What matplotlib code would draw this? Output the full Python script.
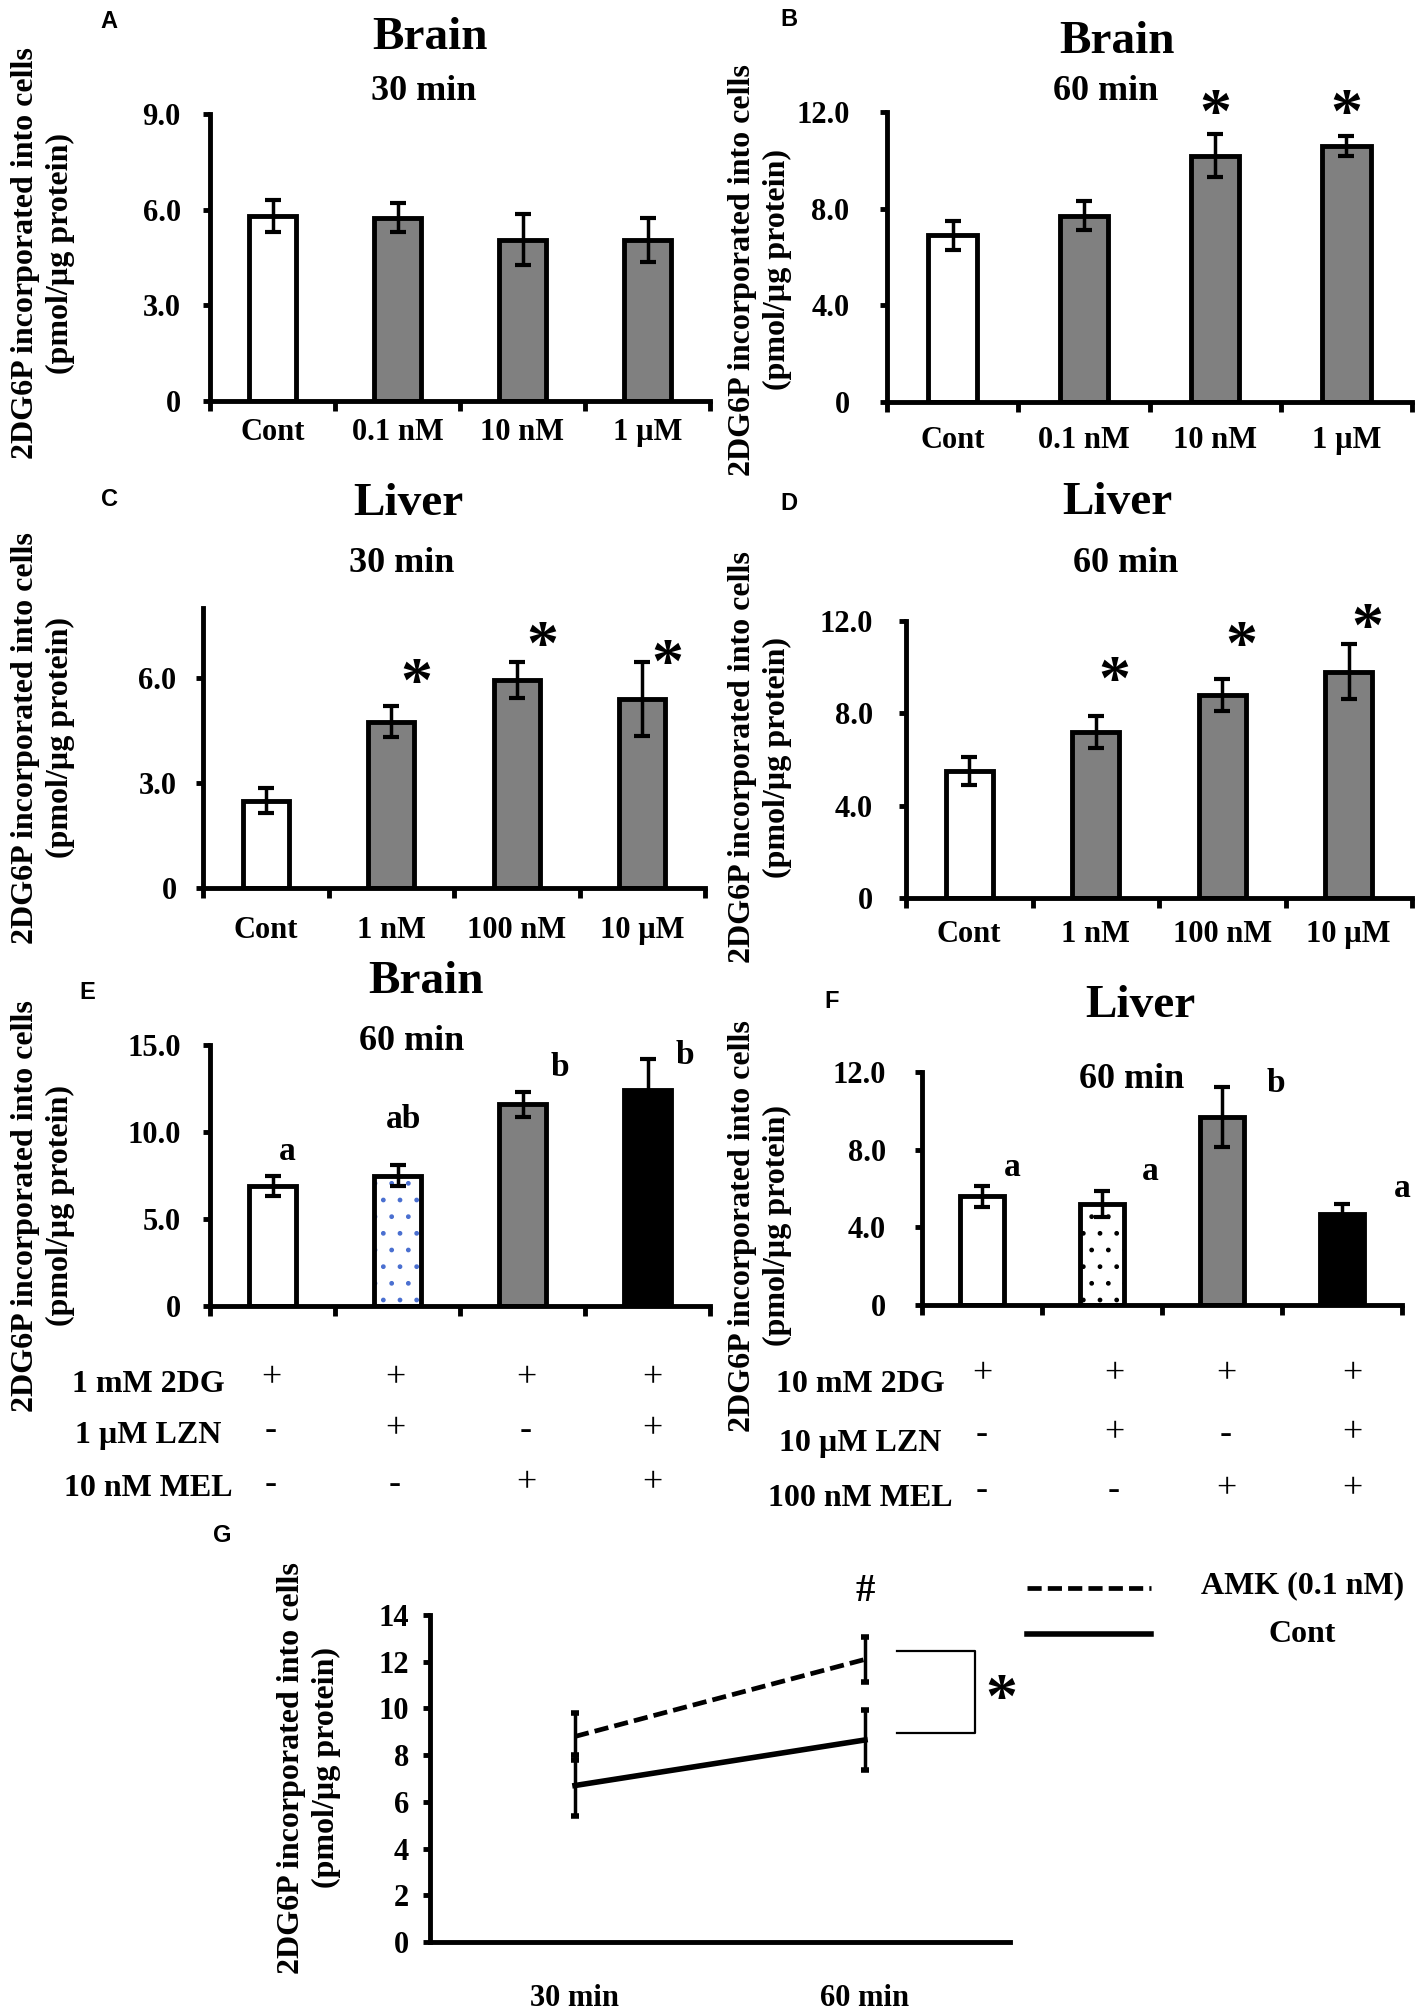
import numpy as np
import matplotlib
matplotlib.use("Agg")
import matplotlib.pyplot as plt

W, H = 1417, 2012
SERIF = "Liberation Serif"
SANS = "Liberation Sans"
GRAY = "#808080"

# -----------------------------
# Data
# -----------------------------
a_labels = ["Cont", "0.1 nM", "10 nM", "1 µM"]
a_mean = [5.8, 5.75, 5.05, 5.05]
a_err = [0.5, 0.45, 0.8, 0.68]

b_labels = ["Cont", "0.1 nM", "10 nM", "1 µM"]
b_mean = [6.9, 7.7, 10.2, 10.6]
b_err = [0.6, 0.6, 0.9, 0.4]
b_star_y = [None, None, 12.2, 12.2]

c_labels = ["Cont", "1 nM", "100 nM", "10 µM"]
c_mean = [2.5, 4.75, 5.95, 5.4]
c_err = [0.37, 0.44, 0.52, 1.05]
c_star_y = [None, 6.05, 7.1, 6.6]

d_labels = ["Cont", "1 nM", "100 nM", "10 µM"]
d_mean = [5.5, 7.2, 8.8, 9.8]
d_err = [0.62, 0.7, 0.7, 1.2]
d_star_y = [None, 9.7, 11.2, 12.0]

e_mean = [6.9, 7.5, 11.6, 12.4]
e_err = [0.57, 0.62, 0.72, 1.8]
e_groups = ["a", "ab", "b", "b"]
e_group_y = [8.9, 10.7, 13.7, 14.4]
e_rows = ["1 mM 2DG", "1 µM LZN", "10 nM MEL"]

f_mean = [5.6, 5.2, 9.7, 4.7]
f_err = [0.55, 0.65, 1.55, 0.5]
f_groups = ["a", "a", "b", "a"]
f_group_y = [7.1, 6.9, 11.4, 6.0]
f_rows = ["10 mM 2DG", "10 µM LZN", "100 nM MEL"]

treat_signs = [["+", "+", "+", "+"],
               ["-", "+", "-", "+"],
               ["-", "-", "+", "+"]]

g_times = ["30 min", "60 min"]
g_amk = [8.8, 12.1]
g_amk_err = [1.0, 0.95]
g_cont = [6.7, 8.65]
g_cont_err = [1.3, 1.28]

ylab = "2DG6P incorporated into cells\n(pmol/µg protein)"

TICK = 22
fig = plt.figure(figsize=(W / 100, H / 100), dpi=100)


def fx(px):
    return px / W


def fy(py):
    return 1 - py / H


def add_ax(left, top, right, bottom):
    return fig.add_axes([fx(left), fy(bottom), (right - left) / W, (bottom - top) / H])


def ftext(px, py, s, size, **kw):
    kw.setdefault("family", SERIF)
    kw.setdefault("weight", "bold")
    fig.text(fx(px), fy(py), s, fontsize=size, ha=kw.pop("ha", "center"),
             va=kw.pop("va", "center"), **kw)


def ylabel(px, py):
    ftext(px, py, ylab, 23, rotation=90, multialignment="center", linespacing=1.25)


def style_axes(ax, ypad):
    for s in ["top", "right"]:
        ax.spines[s].set_visible(False)
    for s in ["left", "bottom"]:
        ax.spines[s].set_linewidth(3.5)
    ax.tick_params(axis="y", direction="out", length=5, width=3.5, pad=ypad, labelsize=TICK)
    for lab in ax.get_yticklabels():
        lab.set_fontfamily(SERIF)
        lab.set_fontweight("bold")


def bar_panel(box, means, errs, ylim, yticks, yticklabels, xlabels, fills,
              xpad, ypad, dots=None):
    ax = add_ax(*box)
    n = len(means)
    x = np.arange(n) + 0.5
    for i in range(n):
        if dots is not None and i == 1:
            ax.bar(x[i], means[i], width=0.37, color="white", edgecolor=dots,
                   hatch=".", linewidth=0, zorder=2)
            ax.bar(x[i], means[i], width=0.37, color="none", edgecolor="black",
                   linewidth=3.5, zorder=2)
        else:
            ax.bar(x[i], means[i], width=0.37, color=fills[i], edgecolor="black",
                   linewidth=3.5, zorder=2)
    ax.errorbar(x, means, yerr=errs, fmt="none", ecolor="black", elinewidth=2.5,
                capsize=6, capthick=3, zorder=3, clip_on=False)
    ax.set_xlim(0, n)
    ax.set_ylim(*ylim)
    ax.set_xticks(np.arange(n + 1))
    ax.set_xticklabels([])
    ax.set_xticks(x, minor=True)
    if xlabels is not None:
        ax.set_xticklabels(xlabels, minor=True, fontsize=TICK, family=SERIF, weight="bold")
    ax.tick_params(axis="x", which="major", direction="out", length=7, width=3.5)
    ax.tick_params(axis="x", which="minor", length=0, pad=xpad)
    ax.set_yticks(yticks)
    ax.set_yticklabels(yticklabels)
    style_axes(ax, ypad)
    return ax, x


def star(ax, xi, yi):
    # the glyph sits high in its box, nudge it down a little
    ax.annotate("*", (xi, yi), xytext=(0, -7), textcoords="offset points",
                fontsize=46, family=SERIF, weight="bold",
                ha="center", va="center", annotation_clip=False)


def stars(ax, x, ys, dx=0.0):
    for xi, yi in zip(x, ys):
        if yi is not None:
            star(ax, xi + dx, yi)


# ---------------- Panel A ----------------
ax, x = bar_panel((210, 114, 710, 401), a_mean, a_err, (0, 9), [0, 3, 6, 9],
                  ["0", "3.0", "6.0", "9.0"], a_labels,
                  ["white", GRAY, GRAY, GRAY], xpad=12, ypad=16)
ftext(430, 38, "Brain", 34)
ftext(424, 91, "30 min", 26)
ftext(109, 22, "A", 17, family=SANS)
ylabel(43, 253)

# ---------------- Panel B ----------------
ax, x = bar_panel((887, 112, 1412, 402), b_mean, b_err, (0, 12), [0, 4, 8, 12],
                  ["0", "4.0", "8.0", "12.0"], b_labels,
                  ["white", GRAY, GRAY, GRAY], xpad=17, ypad=22)
stars(ax, x, b_star_y)
ftext(1117, 42, "Brain", 34)
ftext(1106, 91, "60 min", 26)
ftext(789, 19, "B", 17, family=SANS)
ylabel(760, 270)

# ---------------- Panel C ----------------
ax, x = bar_panel((203, 608, 705, 888), c_mean, c_err, (0, 8), [0, 3, 6],
                  ["0", "3.0", "6.0"], c_labels,
                  ["white", GRAY, GRAY, GRAY], xpad=20, ypad=14)
stars(ax, x, c_star_y, dx=0.2)
ftext(408, 504, "Liver", 34)
ftext(402, 563, "30 min", 26)
ftext(110, 500, "C", 17, family=SANS)
ylabel(43, 738)

# ---------------- Panel D ----------------
ax, x = bar_panel((906, 621, 1412, 898), d_mean, d_err, (0, 12), [0, 4, 8, 12],
                  ["0", "4.0", "8.0", "12.0"], d_labels,
                  ["white", GRAY, GRAY, GRAY], xpad=16, ypad=19)
stars(ax, x, d_star_y, dx=0.15)
ftext(1117, 503, "Liver", 34)
ftext(1126, 563, "60 min", 26)
ftext(789, 504, "D", 17, family=SANS)
ylabel(760, 757)

# ---------------- Panel E ----------------
ax, x = bar_panel((210, 1045, 710, 1306), e_mean, e_err, (0, 15), [0, 5, 10, 15],
                  ["0", "5.0", "10.0", "15.0"], None,
                  ["white", "white", GRAY, "black"], xpad=0, ypad=16, dots="#4a6fd0")
for xi, g, gy, dx in zip(x, e_groups, e_group_y, [0.12, 0.05, 0.3, 0.3]):
    ax.text(xi + dx, gy, g, fontsize=24, family=SERIF, weight="bold",
            ha="center", va="center", clip_on=False)
ftext(426, 982, "Brain", 34)
ftext(412, 1042, "60 min", 26)
ftext(87, 992, "E", 17, family=SANS)
ylabel(43, 1206)
e_cols = [271, 395, 526, 652]
for r, (lab, ry) in enumerate(zip(e_rows, [1384, 1435, 1489])):
    ftext(148, ry, lab, 23)
    for cx, s in zip(e_cols, treat_signs[r]):
        ftext(cx, ry - 5, s, 26, weight="normal")

# ---------------- Panel F ----------------
ax, x = bar_panel((922, 1072, 1402, 1305), f_mean, f_err, (0, 12), [0, 4, 8, 12],
                  ["0", "4.0", "8.0", "12.0"], None,
                  ["white", "white", GRAY, "black"], xpad=0, ypad=21, dots="black")
for xi, g, gy, dx in zip(x, f_groups, f_group_y, [0.25, 0.4, 0.45, 0.5]):
    ax.text(xi + dx, gy, g, fontsize=24, family=SERIF, weight="bold",
            ha="center", va="center", clip_on=False)
ftext(1140, 1006, "Liver", 34)
ftext(1132, 1079, "60 min", 26)
ftext(832, 1001, "F", 17, family=SANS)
ylabel(760, 1226)
f_cols = [982, 1114, 1226, 1352]
for r, (lab, ry) in enumerate(zip(f_rows, [1384, 1443, 1499])):
    ftext(860, ry, lab, 23)
    for cx, s in zip(f_cols, treat_signs[r]):
        ftext(cx, ry - 9, s, 26, weight="normal")

# ---------------- Panel G ----------------
ax = add_ax(430, 1615, 1010, 1942)
gx = np.arange(len(g_times)) + 0.5
ax.errorbar(gx, g_amk, yerr=g_amk_err, color="black", linestyle=(0, (3, 1.3)),
            linewidth=3.4, capsize=3, capthick=4, elinewidth=2.5, clip_on=False)
ax.errorbar(gx, g_cont, yerr=g_cont_err, color="black", linestyle="-",
            linewidth=4.0, capsize=3, capthick=4, elinewidth=2.5, clip_on=False)
ax.set_xlim(0, 2)
ax.set_ylim(0, 14)
ax.set_yticks(np.arange(0, 15, 2))
ax.set_xticks(gx)
ax.set_xticklabels(g_times, fontsize=TICK, family=SERIF, weight="bold")
ax.tick_params(axis="x", length=0, pad=30)
style_axes(ax, 10)
# significance bracket between the two 60 min points
ax.plot([1.61, 1.88, 1.88, 1.61], [12.45, 12.45, 8.95, 8.95], color="black",
        linewidth=1.6, clip_on=False)
star(ax, 1.97, 10.7)
ax.text(gx[1], 15.0, "#", fontsize=28, family=SERIF, weight="bold",
        ha="center", va="center", clip_on=False)
ftext(222, 1535, "G", 17, family=SANS)
ylabel(309, 1768)
# legend drawn by hand: line on the left, label centred to the right
fig.add_artist(plt.Line2D([fx(1027), fx(1151)], [fy(1588), fy(1588)], color="black",
                          linewidth=3.4, linestyle=(0, (3, 1.3))))
fig.add_artist(plt.Line2D([fx(1027), fx(1151)], [fy(1634), fy(1634)], color="black",
                          linewidth=4.0))
ftext(1303, 1586, "AMK (0.1 nM)", 23)
ftext(1302, 1634, "Cont", 23)

fig.savefig("out.png", dpi=100)
